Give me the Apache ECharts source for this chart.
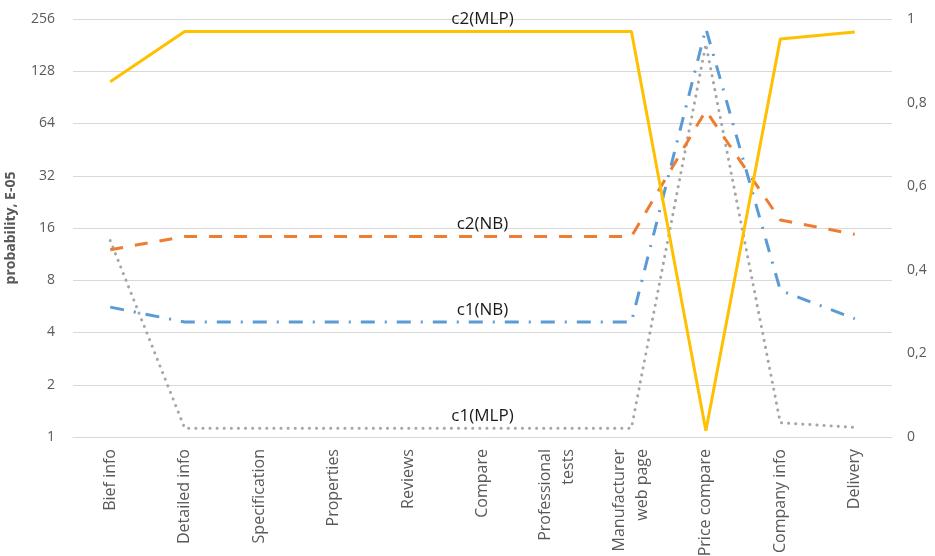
<!DOCTYPE html>
<html><head><meta charset="utf-8">
<script src="https://cdn.jsdelivr.net/npm/echarts@6/dist/echarts.min.js"></script>
<style>html,body{margin:0;padding:0;background:#fff}#c{width:935px;height:556px}</style>
</head><body><div id="c"></div>
<script>
const categories = ['Bief info','Detailed info','Specification','Properties','Reviews','Compare','Professional\ntests','Manufacturer\nweb page','Price compare','Company info','Delivery'];
const leftTicks = [1,2,4,8,16,32,64,128,256];
const rightTicks = [0,0.2,0.4,0.6,0.8,1];
const c2NB = [12, 14.3, 14.3, 14.3, 14.3, 14.3, 14.3, 14.3, 76, 17.8, 14.7];
const c1NB = [5.6, 4.6, 4.6, 4.6, 4.6, 4.6, 4.6, 4.6, 226, 7.0, 4.8];
const c2MLP = [0.85, 0.97, 0.97, 0.97, 0.97, 0.97, 0.97, 0.97, 0.015, 0.952, 0.969];
const c1MLP = [0.47, 0.021, 0.021, 0.021, 0.021, 0.021, 0.021, 0.021, 0.94, 0.034, 0.023];
const labelIndex = 5;

function withLabel(arr, text){
  return arr.map((v,i)=> i===labelIndex ? {value:v, label:{show:true, formatter:text, position:'top', distance:3, color:'#1a1a1a', fontSize:17, fontFamily:'Open Sans'}} : v);
}
const chart = echarts.init(document.getElementById('c'));
const axisFont = {color:'#595959', fontSize:14, fontFamily:'Open Sans'};
const common = {type:'line', symbol:'circle', symbolSize:1, showSymbol:true, itemStyle:{color:'transparent'}, emphasis:{disabled:true}};
chart.setOption({
  animation:false,
  grid:{left:73, right:43, top:19, bottom:119, containLabel:false, outerBoundsMode:'none'},
  xAxis:{type:'category', data:categories, boundaryGap:true,
    axisLine:{lineStyle:{color:'#d9d9d9'}}, axisTick:{show:false},
    axisLabel:Object.assign({rotate:90, interval:0, margin:12, lineHeight:23}, axisFont, {fontSize:16})},
  yAxis:[
    {type:'log', logBase:2, min:leftTicks[0], max:leftTicks[leftTicks.length-1], interval:1,
      name:'probability, E-05', nameLocation:'middle', nameGap:55,
      nameTextStyle:{color:'#595959', fontSize:14, fontWeight:'bold', fontFamily:'Open Sans'},
      axisLine:{show:false}, axisTick:{show:false},
      axisLabel:Object.assign({margin:18}, axisFont),
      splitLine:{lineStyle:{color:'#d9d9d9'}}},
    {type:'value', min:rightTicks[0], max:rightTicks[rightTicks.length-1], interval:0.2,
      axisLine:{show:false}, axisTick:{show:false}, splitLine:{show:false},
      axisLabel:Object.assign({margin:15, formatter:v=>String(Math.round(v*10)/10).replace('.',',')}, axisFont)}
  ],
  series:[
    Object.assign({name:'c1(MLP)', yAxisIndex:1, data:withLabel(c1MLP,'c1(MLP)'),
      lineStyle:{color:'#A5A5A5', width:3, type:[0.1,7], cap:'round'}}, common),
    Object.assign({name:'c2(NB)', yAxisIndex:0, data:withLabel(c2NB,'c2(NB)'),
      lineStyle:{color:'#ED7D31', width:3, type:[13,12]}}, common),
    Object.assign({name:'c1(NB)', yAxisIndex:0, data:withLabel(c1NB,'c1(NB)'),
      lineStyle:{color:'#5B9BD5', width:3, type:[14,10,2,10]}}, common),
    Object.assign({name:'c2(MLP)', yAxisIndex:1, data:withLabel(c2MLP,'c2(MLP)'),
      lineStyle:{color:'#FFC000', width:3}}, common)
  ]
});
</script></body></html>
